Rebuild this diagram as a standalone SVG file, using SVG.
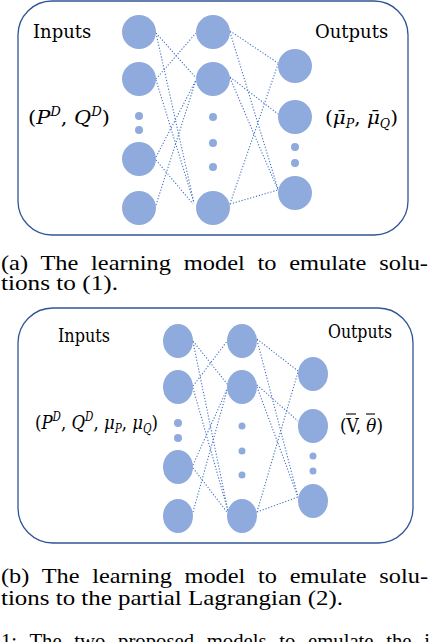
<svg xmlns="http://www.w3.org/2000/svg" width="430" height="642" viewBox="0 0 430 642">
<defs>
<style>
.box{fill:#fff;stroke:#2F5597;stroke-width:1.3}
.n{fill:#8FAADC}
.c line{stroke:#4472C4;stroke-width:1.1;stroke-dasharray:1.2 1.8}
.bar{stroke:#000;stroke-width:1.1}
.lbl{font-family:"DejaVu Serif","Liberation Serif",serif;font-size:18px;fill:#000}
.m{font-family:"DejaVu Serif","Liberation Serif",serif;font-size:19px;fill:#000}
.cap{font-family:"Liberation Serif","Times New Roman",serif;font-size:22px;fill:#000}
</style>
</defs>
<rect width="430" height="642" fill="#fff"/>

<!-- Panel (a) -->
<g id="panelA">
<rect class="box" x="18" y="1" width="390" height="234" rx="34" ry="34"/>
</g>
<g id="a-connectors" class="c">
<line x1="156" y1="33" x2="196" y2="78"/>
<line x1="156" y1="33" x2="194" y2="203"/>
<line x1="156" y1="79" x2="196" y2="33"/>
<line x1="156" y1="80" x2="194" y2="203"/>
<line x1="156" y1="157" x2="196" y2="80"/>
<line x1="156" y1="160" x2="193" y2="204"/>
<line x1="156" y1="205" x2="196" y2="80"/>
<line x1="230" y1="31" x2="278" y2="63"/>
<line x1="230" y1="32" x2="278" y2="189"/>
<line x1="230" y1="77" x2="278" y2="114"/>
<line x1="230" y1="78" x2="278" y2="190"/>
<line x1="230" y1="204" x2="278" y2="64"/>
<line x1="230" y1="204" x2="278" y2="190"/>
</g>
<g id="a-inputs">
<circle class="n" cx="139" cy="32" r="17"/>
<circle class="n" cx="139" cy="79" r="17"/>
<circle class="n" cx="139" cy="116" r="4"/>
<circle class="n" cx="139" cy="130" r="4"/>
<circle class="n" cx="139" cy="159" r="17"/>
<circle class="n" cx="139" cy="208" r="17"/>
<text class="lbl" x="33" y="38">Inputs</text>
<text class="m" x="28" y="124" textLength="82" lengthAdjust="spacingAndGlyphs">(<tspan font-style="italic">P</tspan><tspan font-style="italic" font-size="12" dy="-8">D</tspan><tspan dy="8">, </tspan><tspan font-style="italic">Q</tspan><tspan font-style="italic" font-size="12" dy="-8">D</tspan><tspan dy="8">)</tspan></text>
</g>
<g id="a-hidden">
<circle class="n" cx="213" cy="32" r="17"/>
<circle class="n" cx="213" cy="79" r="17"/>
<circle class="n" cx="213" cy="117" r="4"/>
<circle class="n" cx="213" cy="143" r="4"/>
<circle class="n" cx="213" cy="167" r="4"/>
<circle class="n" cx="213" cy="208" r="17"/>
</g>
<g id="a-outputs">
<circle class="n" cx="295" cy="66" r="17"/>
<circle class="n" cx="295" cy="117" r="17"/>
<circle class="n" cx="295" cy="147" r="4"/>
<circle class="n" cx="295" cy="163" r="4"/>
<circle class="n" cx="295" cy="193" r="17"/>
<text class="lbl" x="315" y="38">Outputs</text>
<text class="m" x="325" y="124" textLength="73" lengthAdjust="spacingAndGlyphs">(<tspan font-style="italic">μ̄</tspan><tspan font-style="italic" font-size="12" dy="4">P</tspan><tspan dy="-4">, </tspan><tspan font-style="italic">μ̄</tspan><tspan font-style="italic" font-size="12" dy="4">Q</tspan><tspan dy="-4">)</tspan></text>
</g>
<g id="caption-a">
<text class="cap" x="1" y="270" word-spacing="6" textLength="427" lengthAdjust="spacingAndGlyphs">(a) The learning model to emulate solu-</text>
<text class="cap" x="1" y="290" textLength="117" lengthAdjust="spacingAndGlyphs">tions to (1).</text>
</g>

<!-- Panel (b) -->
<g id="panelB">
<rect class="box" x="18" y="308" width="395" height="235" rx="35" ry="35"/>
</g>
<g id="b-connectors" class="c">
<line x1="193" y1="341" x2="228" y2="385"/>
<line x1="193" y1="342" x2="228" y2="511"/>
<line x1="193" y1="386" x2="228" y2="340"/>
<line x1="193" y1="388" x2="228" y2="511"/>
<line x1="193" y1="465" x2="228" y2="387"/>
<line x1="193" y1="468" x2="227" y2="512"/>
<line x1="193" y1="512" x2="228" y2="387"/>
<line x1="257" y1="339" x2="298" y2="371"/>
<line x1="257" y1="340" x2="298" y2="497"/>
<line x1="257" y1="385" x2="298" y2="421"/>
<line x1="257" y1="387" x2="298" y2="497"/>
<line x1="257" y1="512" x2="298" y2="372"/>
<line x1="257" y1="512" x2="298" y2="497"/>
</g>
<g id="b-inputs">
<ellipse class="n" cx="178" cy="341" rx="15" ry="17"/>
<ellipse class="n" cx="178" cy="387" rx="15" ry="17"/>
<circle class="n" cx="178" cy="423" r="4"/>
<circle class="n" cx="178" cy="438" r="4"/>
<ellipse class="n" cx="178" cy="467" rx="15" ry="17"/>
<ellipse class="n" cx="178" cy="516" rx="15" ry="17"/>
<text class="lbl" x="58" y="342" textLength="52" lengthAdjust="spacingAndGlyphs">Inputs</text>
<text class="m" x="35" y="429" textLength="123" lengthAdjust="spacingAndGlyphs">(<tspan font-style="italic">P</tspan><tspan font-style="italic" font-size="12" dy="-8">D</tspan><tspan dy="8">, </tspan><tspan font-style="italic">Q</tspan><tspan font-style="italic" font-size="12" dy="-8">D</tspan><tspan dy="8">, </tspan><tspan font-style="italic">μ</tspan><tspan font-style="italic" font-size="12" dy="4">P</tspan><tspan dy="-4">, </tspan><tspan font-style="italic">μ</tspan><tspan font-style="italic" font-size="12" dy="4">Q</tspan><tspan dy="-4">)</tspan></text>
</g>
<g id="b-hidden">
<ellipse class="n" cx="242" cy="341" rx="15" ry="17"/>
<ellipse class="n" cx="242" cy="387" rx="15" ry="17"/>
<circle class="n" cx="242" cy="426" r="3.5"/>
<circle class="n" cx="242" cy="451" r="3.5"/>
<circle class="n" cx="242" cy="475" r="3.5"/>
<ellipse class="n" cx="242" cy="516" rx="15" ry="17"/>
</g>
<g id="b-outputs">
<ellipse class="n" cx="313" cy="374" rx="15" ry="17"/>
<ellipse class="n" cx="313" cy="426" rx="15" ry="17"/>
<circle class="n" cx="313" cy="456" r="3.5"/>
<circle class="n" cx="313" cy="471" r="3.5"/>
<ellipse class="n" cx="313" cy="501" rx="15" ry="17"/>
<text class="lbl" x="328" y="338" textLength="64" lengthAdjust="spacingAndGlyphs">Outputs</text>
<text class="m" x="340" y="432" textLength="43" lengthAdjust="spacingAndGlyphs">(V, <tspan font-style="italic">θ</tspan>)</text>
<line class="bar" x1="346" y1="414" x2="356" y2="414"/>
<line class="bar" x1="366" y1="414" x2="375" y2="414"/>
</g>
<g id="caption-b">
<text class="cap" x="1" y="583" word-spacing="6" textLength="427" lengthAdjust="spacingAndGlyphs">(b) The learning model to emulate solu-</text>
<text class="cap" x="1" y="605" textLength="342" lengthAdjust="spacingAndGlyphs">tions to the partial Lagrangian (2).</text>
<text class="cap" x="1" y="648" word-spacing="8" textLength="429" lengthAdjust="spacingAndGlyphs">1: The two proposed models to emulate the i</text>
</g>
</svg>
